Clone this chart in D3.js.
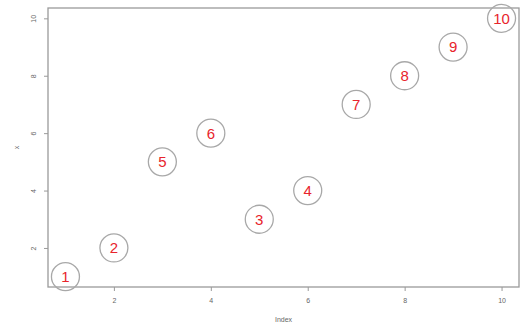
<!DOCTYPE html>
<html><head><meta charset="utf-8">
<script src="https://cdn.jsdelivr.net/npm/d3@7"></script>
<style>html,body{margin:0;padding:0;background:#fff;}svg{display:block;}</style>
</head><body>
<svg id="c" width="524" height="329"></svg>
<script>
const indexValues = [1,2,3,4,5,6,7,8,9,10];
const xValues = [1,2,5,6,3,4,7,8,9,10];
const pointLabels = ["1","2","5","6","3","4","7","8","9","10"];
const xTicks = [2,4,6,8,10];
const yTicks = [2,4,6,8,10];

(function(){
const svg = d3.select("#c");
const mL = 48, mR = 519, mT = 8, mB = 287;
const pad = (10-1)*0.04;
const x = d3.scaleLinear().domain([1-pad, 10+pad]).range([mL, mR]);
const y = d3.scaleLinear().domain([1-pad, 10+pad]).range([mB, mT]);
const axisCol = "#9a9a9a";
const textCol = "#666";
const ff = "Liberation Sans, Arial, sans-serif";

svg.append("rect").attr("x", mL).attr("y", mT).attr("width", mR-mL).attr("height", mB-mT)
  .attr("fill", "none").attr("stroke", axisCol).attr("stroke-width", 1.3);

const xa = svg.append("g").attr("transform", `translate(0,${mB})`)
  .call(d3.axisBottom(x).tickValues(xTicks).tickSize(4).tickPadding(7).tickFormat(d3.format("d")));
xa.select(".domain").remove();
xa.selectAll("line").attr("stroke", axisCol);
xa.selectAll("text").attr("fill", textCol).attr("font-family", ff).attr("font-size", 7);

const ya = svg.append("g").attr("transform", `translate(${mL},0)`)
  .call(d3.axisLeft(y).tickValues(yTicks).tickSize(4).tickFormat(d3.format("d")));
ya.select(".domain").remove();
ya.selectAll("line").attr("stroke", axisCol);
ya.selectAll("text").remove();
ya.selectAll(".tick").append("text")
  .attr("transform", "translate(-12,0) rotate(-90)")
  .attr("text-anchor", "middle")
  .attr("fill", textCol).attr("font-family", ff).attr("font-size", 7)
  .text(d => d);

svg.append("text").attr("x", (mL+mR)/2).attr("y", 322).attr("text-anchor", "middle")
  .attr("fill", textCol).attr("font-family", ff).attr("font-size", 7).text("Index");
svg.append("text").attr("transform", `translate(19,${(mT+mB)/2}) rotate(-90)`).attr("text-anchor", "middle")
  .attr("fill", textCol).attr("font-family", ff).attr("font-size", 7).text("x");

const pts = svg.append("g").selectAll("g").data(indexValues).join("g")
  .attr("transform", (d,i) => `translate(${x(d)},${y(xValues[i])})`);
pts.append("circle").attr("r", 14).attr("fill", "none").attr("stroke", "#a8a8a8").attr("stroke-width", 1.3);
pts.append("text").attr("text-anchor", "middle").attr("dy", "0.36em")
  .attr("fill", "#e8242c").attr("font-family", ff).attr("font-size", 15)
  .text((d,i) => pointLabels[i]);
})();
</script>
</body></html>
